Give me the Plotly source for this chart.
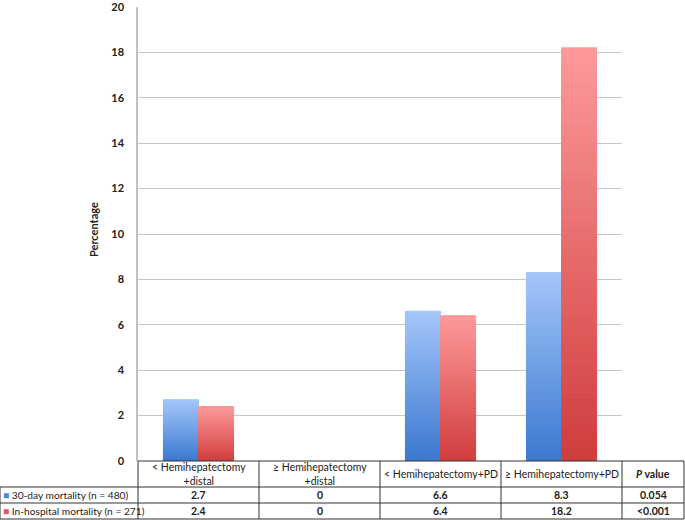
import plotly.graph_objects as go

# ---- data ----
categories = ["< Hemihepatectomy<br>+distal", "≥ Hemihepatectomy<br>+distal",
              "< Hemihepatectomy+PD", "≥ Hemihepatectomy+PD"]
series_names = ["30-day mortality (n = 480)", "In-hospital mortality (n = 271)"]
thirty_day = [2.7, 0, 6.6, 8.3]
in_hospital = [2.4, 0, 6.4, 18.2]
p_values = ["0.054", "<0.001"]
y_ticks = [0, 2, 4, 6, 8, 10, 12, 14, 16, 18, 20]

# ---- style ----
W, H = 685, 520
FONT = "Lato, 'Open Sans', sans-serif"
grad = {
    "blue": ((0x3b, 0x78, 0xcf), (0xa3, 0xc6, 0xfa)),
    "red": ((0xd0, 0x3c, 0x3c), (0xfd, 0x9a, 0x9a)),
}
N = 60

def lerp(c0, c1, t):
    return "rgb(%d,%d,%d)" % tuple(round(a + (b - a) * t) for a, b in zip(c0, c1))

fig = go.Figure()
xs = list(range(len(categories)))
for vals, key in [(thirty_day, "blue"), (in_hospital, "red")]:
    c0, c1 = grad[key]
    widths = [1 if v > 0 else 0 for v in vals]
    for i in range(N):
        col = lerp(c0, c1, (i + 0.5) / N)
        fig.add_trace(go.Bar(
            x=xs,
            y=[v / N for v in vals],
            base=[v * i / N for v in vals],
            offsetgroup=key,
            marker=dict(color=col, line=dict(width=widths, color=col)),
            showlegend=False, hoverinfo="skip",
        ))

# plot area in pixels
x0_px, x1_px = 138, 622
y_top_px, y_bot_px = 7, 461
px = lambda x: x / W
py = lambda y: 1 - y / H

fig.update_layout(
    width=W, height=H, autosize=False,
    margin=dict(l=0, r=0, t=0, b=0, pad=0),
    paper_bgcolor="white", plot_bgcolor="white",
    barmode="group", bargap=0.42, bargroupgap=0,
    font=dict(family=FONT, size=11, color="#222"),
    xaxis=dict(domain=[px(x0_px), px(x1_px)], range=[-0.5, len(categories) - 0.5],
               automargin=False,
               showticklabels=False, showgrid=False, zeroline=False, showline=False),
    yaxis=dict(domain=[py(y_bot_px), py(y_top_px)], range=[0, 20],
               automargin=False, ticklabeloverflow="allow",
               tickvals=y_ticks, ticktext=[str(t) for t in y_ticks],
               showgrid=True, gridcolor="#c6c6c6", gridwidth=1.2,
               zeroline=False, showline=True, linecolor="#c0c0c0", linewidth=1.5,
               ticks="", ticklabelstandoff=10,
               tickfont=dict(family=FONT, size=11, color="#222", weight="bold")),
)

# y axis title
annotations = [dict(text="<b>Percentage</b>", x=px(93), y=py(230), xref="paper", yref="paper",
                    xanchor="center", yanchor="middle",
                    textangle=-90, showarrow=False, font=dict(size=11, color="#222"))]

# ---- table ----
row_edges = [461, 487, 503, 519]
col_edges_px = [0, 138, 259, 380, 501, 622, 684]
line = dict(color="#333", width=1)
shapes = []
shapes.append(dict(type="line", xref="paper", yref="paper", x0=px(138), x1=px(684),
                   y0=py(row_edges[0]), y1=py(row_edges[0]), line=line))
for ry in row_edges[1:]:
    shapes.append(dict(type="line", xref="paper", yref="paper", x0=px(0), x1=px(684),
                       y0=py(ry), y1=py(ry), line=line))
for cx in col_edges_px:
    top = row_edges[0] if cx >= 138 else row_edges[1]
    shapes.append(dict(type="line", xref="paper", yref="paper", x0=px(cx), x1=px(cx),
                       y0=py(top), y1=py(row_edges[-1]), line=line))

hdr_y = py((row_edges[0] + row_edges[1]) / 2)
row_y = [py((row_edges[1] + row_edges[2]) / 2), py((row_edges[2] + row_edges[3]) / 2)]
pcol_x = px((622 + 684) / 2)

for i, c in enumerate(categories):
    annotations.append(dict(text=c, x=i, y=hdr_y, xref="x", yref="paper", showarrow=False,
                            xanchor="center", yanchor="middle", font=dict(size=10.5), align="center"))
annotations.append(dict(text="<b><i>P</i> value</b>", x=pcol_x, y=hdr_y, xref="paper", yref="paper",
                        xanchor="center", yanchor="middle", showarrow=False, font=dict(size=10.5)))

marker_colors = ["#4f88dc", "#e45a5a"]
for r, (name, vals) in enumerate([(series_names[0], thirty_day), (series_names[1], in_hospital)]):
    annotations.append(dict(
        text="<span style='color:%s'>■</span> %s" % (marker_colors[r], name),
        x=px(1), y=row_y[r], xref="paper", yref="paper", xanchor="left", yanchor="middle",
        showarrow=False, font=dict(size=10.2)))
    for i, v in enumerate(vals):
        annotations.append(dict(text="<b>%g</b>" % v, x=i, y=row_y[r], xref="x", yref="paper",
                                xanchor="center", yanchor="middle", showarrow=False,
                                font=dict(size=10.5)))
    annotations.append(dict(text="<b>%s</b>" % p_values[r], x=pcol_x, y=row_y[r], xref="paper",
                            yref="paper", xanchor="center", yanchor="middle", showarrow=False,
                            font=dict(size=10.5)))

fig.update_layout(shapes=shapes, annotations=annotations)
fig.write_html("out.html",
               config={"responsive": False, "displayModeBar": False},
               post_script="document.body.style.margin='0px';document.body.style.overflow='hidden';")
